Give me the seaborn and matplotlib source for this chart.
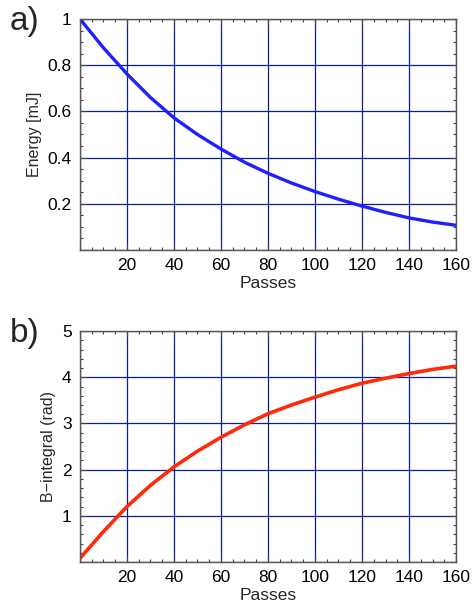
import numpy as np
import pandas as pd
import matplotlib
matplotlib.use("Agg")
import matplotlib.pyplot as plt
import seaborn as sns
from matplotlib.ticker import MultipleLocator, FuncFormatter

# =====================
# Data
# =====================
passes = [0, 10, 20, 30, 40, 50, 60, 70, 80, 90, 100, 110, 120, 130, 140, 150, 160]
energy_mj = [1.0, 0.875, 0.762, 0.66, 0.572, 0.50, 0.437, 0.38, 0.332, 0.29,
             0.253, 0.22, 0.19, 0.163, 0.139, 0.121, 0.107]
b_integral = [0.08, 0.66, 1.2, 1.66, 2.06, 2.4, 2.7, 2.97, 3.21, 3.4,
              3.57, 3.73, 3.87, 3.98, 4.08, 4.17, 4.24]

df = pd.DataFrame({"passes": passes, "energy": energy_mj, "bint": b_integral})

# =====================
# Style
# =====================
sns.set_style("ticks")
plt.rcParams["font.family"] = ["Liberation Sans", "DejaVu Sans"]

fig = plt.figure(figsize=(4.76, 6.12), dpi=100)
ax1 = fig.add_axes([0.168, 0.5915, 0.79, 0.3775])
ax2 = fig.add_axes([0.168, 0.0817, 0.79, 0.3773])

grid_col = "#0c1f8f"


def fmt(v, pos):
    return ("%g" % v) if v > 1e-9 else ""


def style_axis(ax, ymax, ymaj, ymin):
    ax.set_xlim(0, 160)
    ax.set_ylim(0, ymax)
    ax.xaxis.set_major_locator(MultipleLocator(20))
    ax.xaxis.set_minor_locator(MultipleLocator(5))
    ax.yaxis.set_major_locator(MultipleLocator(ymaj))
    ax.yaxis.set_minor_locator(MultipleLocator(ymin))
    ax.xaxis.set_major_formatter(FuncFormatter(fmt))
    ax.yaxis.set_major_formatter(FuncFormatter(fmt))
    ax.grid(True, which="major", color=grid_col, linewidth=0.9)
    ax.tick_params(which="both", direction="in", top=True, right=True,
                   colors="#444444", labelcolor="black", labelsize=12.5, pad=6)
    ax.tick_params(which="major", length=4, width=0.8)
    ax.tick_params(which="minor", length=2.5, width=0.8)
    for s in ax.spines.values():
        s.set_color("#555555")
        s.set_linewidth(1.0)
    ax.set_axisbelow(True)


# Chart a) — Energy
sns.lineplot(data=df, x="passes", y="energy", color="#1f1fff", linewidth=2.4, ax=ax1)
style_axis(ax1, 1.0, 0.2, 0.05)
ax1.set_xlabel("Passes", fontsize=12.5, labelpad=2)
ax1.set_ylabel("Energy [mJ]", fontsize=11.5, labelpad=4)
fig.text(0.02, 0.965, "a)", fontsize=24, va="center", ha="left")

# Chart b) — B-integral
sns.lineplot(data=df, x="passes", y="bint", color="#ff2a0a", linewidth=2.6, ax=ax2)
style_axis(ax2, 5.0, 1.0, 0.2)
ax2.set_xlabel("Passes", fontsize=12.5, labelpad=2)
ax2.set_ylabel("B\u2212integral (rad)", fontsize=11.5, labelpad=4)
fig.text(0.02, 0.455, "b)", fontsize=24, va="center", ha="left")

plt.savefig("out.png", dpi=100)
